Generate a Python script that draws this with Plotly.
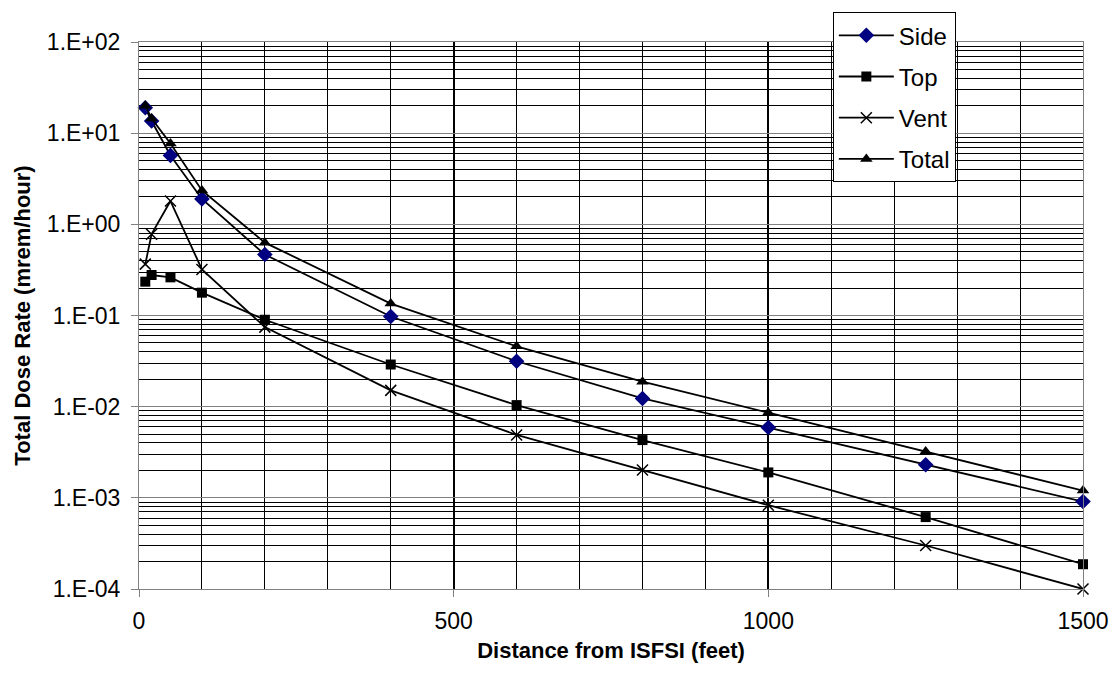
import plotly.graph_objects as go

# distances (feet)
distance = [10, 20, 50, 100, 200, 400, 600, 800, 1000, 1250, 1500]

# dose rates (mrem/hour)
side = [19.0, 13.6, 5.7, 1.9, 0.466, 0.0975, 0.0315, 0.0123, 0.0059, 0.00231, 0.00091]
top = [0.235, 0.278, 0.262, 0.178, 0.0898, 0.029, 0.0104, 0.0043, 0.0019, 0.000615, 0.000187]
vent = [0.366, 0.78, 1.8, 0.32, 0.0746, 0.0151, 0.0049, 0.00202, 0.00083, 0.0003, 0.0001]
total = [20.0, 14.5, 7.7, 2.35, 0.63, 0.135, 0.0459, 0.0188, 0.0086, 0.00323, 0.0012]

y_ticks = [1e-4, 1e-3, 1e-2, 1e-1, 1e0, 1e1, 1e2]
y_labels = ["1.E-04", "1.E-03", "1.E-02", "1.E-01", "1.E+00", "1.E+01", "1.E+02"]
x_ticks = [0, 500, 1000, 1500]

FONT = "Arial, Liberation Sans, sans-serif"

fig = go.Figure()

series = [
    ("Side", side, dict(symbol="diamond", size=12, color="#000080")),
    ("Top", top, dict(symbol="square", size=10, color="black")),
    ("Vent", vent, dict(symbol="x-thin", size=11, color="black",
                        line=dict(width=1.5, color="black"))),
    ("Total", total, dict(symbol="triangle-up", size=11, color="black")),
]
for name, vals, mk in series:
    fig.add_trace(go.Scatter(
        x=distance, y=vals, name=name, mode="lines+markers",
        line=dict(color="black", width=1.8),
        marker=mk, legendgroup=name, cliponaxis=False,
    ))

fig.update_layout(
    width=1115, height=679,
    margin=dict(l=139, r=32, t=39, b=90),
    paper_bgcolor="white", plot_bgcolor="white",
    font=dict(family=FONT, size=23, color="black"),
    showlegend=True,
    legend=dict(
        x=0.735, y=1.0545, xanchor="left", yanchor="top",
        bgcolor="white", bordercolor="black", borderwidth=1,
        font=dict(size=24), tracegroupgap=7, traceorder="grouped",
        itemwidth=55,
    ),
    xaxis=dict(
        range=[0, 1500], tickvals=x_ticks,
        showgrid=True, gridcolor="black", gridwidth=1.5,
        minor=dict(dtick=100, showgrid=True, gridcolor="black", gridwidth=1),
        showline=True, linecolor="#808080", linewidth=1, mirror=True,
        ticks="outside", ticklen=7, tickcolor="#808080",
        ticklabelstandoff=4,
        zeroline=False, automargin=False,
        title=dict(text="<b>Distance from ISFSI (feet)</b>", font=dict(size=22),
                   standoff=10),
    ),
    yaxis=dict(
        type="log", range=[-4, 2],
        tickvals=y_ticks, ticktext=y_labels,
        showgrid=True, gridcolor="#808080", gridwidth=1,
        minor=dict(dtick="D1", showgrid=True, gridcolor="black", gridwidth=1),
        showline=True, linecolor="#808080", linewidth=1, mirror=True,
        ticks="outside", ticklen=7, tickcolor="#808080",
        ticklabelstandoff=6,
        zeroline=False, automargin=False,
        title=dict(text="<b>Total Dose Rate (mrem/hour)</b>", font=dict(size=22),
                   standoff=10),
    ),
)

fig.write_html("out.html", config={"displayModeBar": False},
               post_script="document.body.style.margin='0';")
